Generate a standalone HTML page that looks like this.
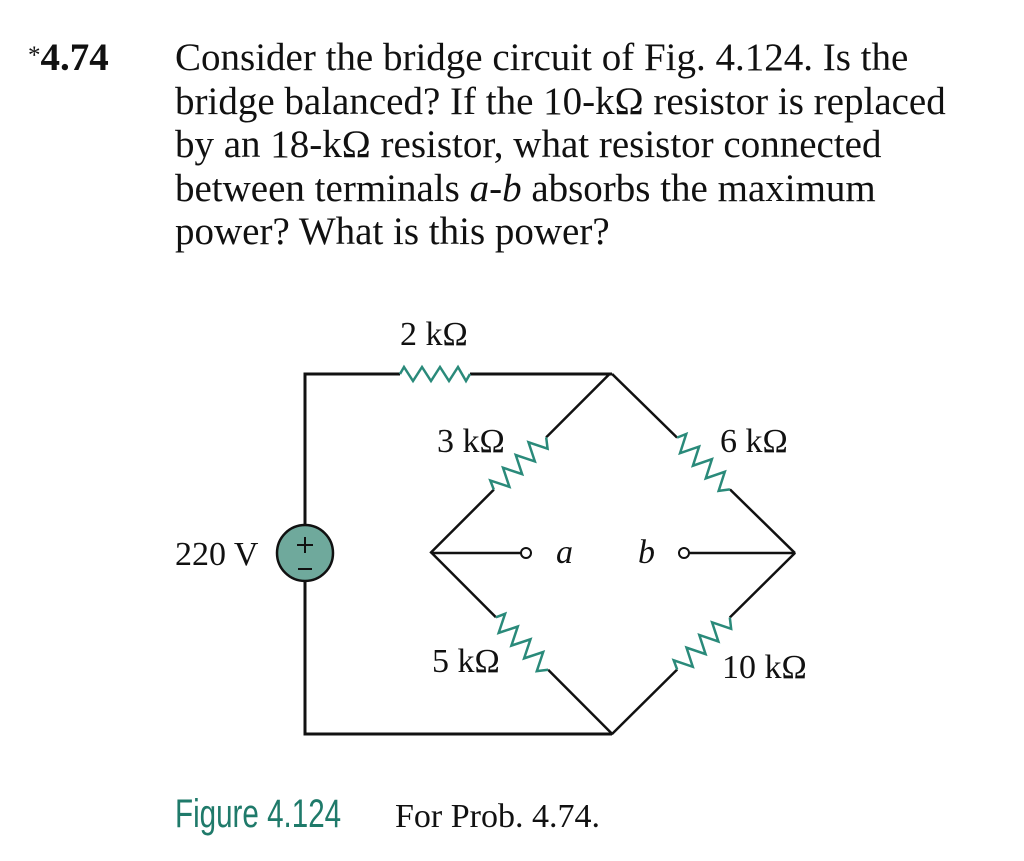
<!DOCTYPE html>
<html><head><style>
body{margin:0;background:#fff;width:1024px;height:861px;overflow:hidden;position:relative;font-family:"Liberation Serif",serif;color:#111}
.num{position:absolute;left:28px;top:36px;font-size:39px;line-height:43.5px;font-weight:bold}
.txt{position:absolute;left:175px;top:36px;font-size:39px;line-height:43.5px;white-space:nowrap}
</style></head><body>
<div class="num"><span style="font-size:25px;font-weight:normal;vertical-align:top;position:relative;top:-2px">*</span>4.74</div>
<div class="txt">Consider the bridge circuit of Fig. 4.124. Is the<br>bridge balanced? If the 10-kΩ resistor is replaced<br>by an 18-kΩ resistor, what resistor connected<br>between terminals <i>a</i>-<i>b</i> absorbs the maximum<br>power? What is this power?</div>
<svg width="1024" height="861" style="position:absolute;left:0;top:0">
<g stroke="#111" stroke-width="3" fill="none">
<polyline points="400,374 305,374 305,525"/>
<polyline points="305,581 305,734 612,734"/>
<line x1="470" y1="374" x2="612" y2="374"/>
<line x1="432" y1="553" x2="521" y2="553" stroke-width="2.5"/>
<line x1="689" y1="553" x2="795" y2="553" stroke-width="2.5"/>
</g>
<g transform="translate(435,374)"><polyline points="-35,0 -31,-7 -22,7 -13,-7 -4,7 5,-7 14,7 23,-7 31,7 35,0" fill="none" stroke="#2a8a7a" stroke-width="2.5"/></g>
<g transform="translate(520,463.5) rotate(-45)">
<line x1="-127" y1="0" x2="-37" y2="0" stroke="#111" stroke-width="2.5"/><line x1="37" y1="0" x2="127" y2="0" stroke="#111" stroke-width="2.5"/>
<polyline points="-37,0 -33,-9 -24,9 -15,-9 -6,9 3,-9 12,9 21,-9 30,9 37,0" fill="none" stroke="#2a8a7a" stroke-width="2.5"/></g>
<g transform="translate(703.5,463.5) rotate(44.4)">
<line x1="-128" y1="0" x2="-37" y2="0" stroke="#111" stroke-width="2.5"/><line x1="37" y1="0" x2="128" y2="0" stroke="#111" stroke-width="2.5"/>
<polyline points="-37,0 -33,-9 -24,9 -15,-9 -6,9 3,-9 12,9 21,-9 30,9 37,0" fill="none" stroke="#2a8a7a" stroke-width="2.5"/></g>
<g transform="translate(522,643.5) rotate(45.1)">
<line x1="-128" y1="0" x2="-37" y2="0" stroke="#111" stroke-width="2.5"/><line x1="37" y1="0" x2="128" y2="0" stroke="#111" stroke-width="2.5"/>
<polyline points="-37,0 -33,-9 -24,9 -15,-9 -6,9 3,-9 12,9 21,-9 30,9 37,0" fill="none" stroke="#2a8a7a" stroke-width="2.5"/></g>
<g transform="translate(703.5,643.5) rotate(-44.7)">
<line x1="-129" y1="0" x2="-37" y2="0" stroke="#111" stroke-width="2.5"/><line x1="37" y1="0" x2="129" y2="0" stroke="#111" stroke-width="2.5"/>
<polyline points="-37,0 -33,-9 -24,9 -15,-9 -6,9 3,-9 12,9 21,-9 30,9 37,0" fill="none" stroke="#2a8a7a" stroke-width="2.5"/></g>
<circle cx="526" cy="553" r="5" fill="#fff" stroke="#111" stroke-width="2"/>
<circle cx="684" cy="553" r="5" fill="#fff" stroke="#111" stroke-width="2"/>
<circle cx="305" cy="553" r="28" fill="#6fa99c" stroke="#111" stroke-width="2.5"/>
<g stroke="#111" stroke-width="2"><line x1="297" y1="545" x2="313" y2="545"/><line x1="305" y1="537" x2="305" y2="553"/><line x1="298" y1="569" x2="312" y2="569"/></g>
<g font-family="Liberation Serif,serif" font-size="34" fill="#111">
<text x="400" y="345">2 kΩ</text>
<text x="437" y="452">3 kΩ</text>
<text x="720" y="452">6 kΩ</text>
<text x="432" y="672">5 kΩ</text>
<text x="722" y="678">10 kΩ</text>
<text x="175" y="565">220 V</text>
<text x="556" y="563" font-style="italic">a</text>
<text x="638" y="563" font-style="italic">b</text>
<text x="395" y="827">For Prob. 4.74.</text>
</g>
<text x="175" y="827" font-family="Liberation Sans Narrow,Liberation Sans,sans-serif" font-size="40" fill="#1f7a6a" transform="translate(175,0) scale(0.74,1) translate(-175,0)">Figure 4.124</text>
</svg>
</body></html>
